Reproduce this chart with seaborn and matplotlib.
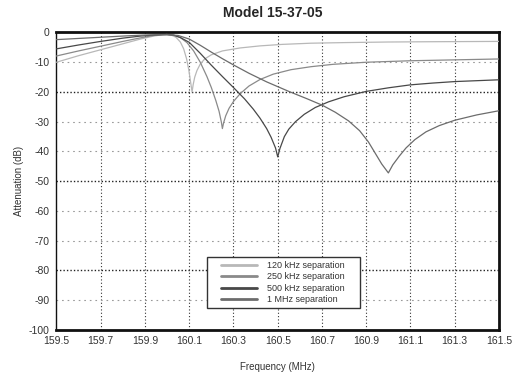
import matplotlib
matplotlib.use("Agg")
import matplotlib.pyplot as plt
from matplotlib.ticker import MultipleLocator, FormatStrFormatter
from matplotlib.lines import Line2D
from matplotlib.patches import Rectangle
import seaborn as sns
import pandas as pd

# Filter response curves: frequency (MHz) vs attenuation (dB)
freq_120 = [159.5, 159.6, 159.7, 159.8, 159.88, 159.94, 159.98, 160.0, 160.02, 160.04,
            160.06, 160.075, 160.088, 160.098, 160.106, 160.113, 160.118, 160.125, 160.135,
            160.15, 160.17, 160.2, 160.25, 160.33, 160.42, 160.52, 160.65, 160.8, 161.0,
            161.2, 161.5]
atten_120 = [-10.0, -7.8, -5.8, -3.8, -2.2, -1.2, -0.75, -0.7, -0.9, -1.6,
             -3.2, -5.5, -8.8, -12.5, -16.5, -20.0, -17.5, -15.0, -12.8,
             -10.6, -8.9, -7.5, -6.2, -5.2, -4.5, -4.0, -3.6, -3.4, -3.2,
             -3.1, -3.0]

freq_250 = [159.5, 159.6, 159.7, 159.8, 159.88, 159.94, 159.98, 160.0, 160.03, 160.06,
            160.09, 160.12, 160.15, 160.18, 160.2, 160.22, 160.235, 160.245, 160.25,
            160.255, 160.265, 160.28, 160.3, 160.33, 160.37, 160.42, 160.48, 160.56,
            160.65, 160.75, 160.9, 161.1, 161.3, 161.5]
atten_250 = [-7.9, -6.2, -4.6, -3.0, -1.8, -1.0, -0.75, -0.7, -0.9, -1.7,
             -3.4, -6.2, -10.0, -14.8, -18.5, -22.8, -26.5, -30.0, -32.3,
             -30.5, -28.0, -25.5, -23.2, -20.6, -18.0, -15.8, -14.0, -12.5,
             -11.5, -10.7, -10.0, -9.5, -9.2, -8.9]

freq_500 = [159.5, 159.6, 159.7, 159.8, 159.88, 159.94, 159.98, 160.0, 160.03, 160.06,
            160.1, 160.15, 160.2, 160.25, 160.3, 160.35, 160.39, 160.42, 160.45,
            160.47, 160.49, 160.5, 160.51, 160.53, 160.55, 160.58, 160.62, 160.67,
            160.73, 160.8, 160.9, 161.0, 161.1, 161.2, 161.3, 161.4, 161.5]
atten_500 = [-5.5, -4.2, -3.0, -1.9, -1.2, -0.85, -0.72, -0.7, -0.9, -1.7,
             -3.3, -7.0, -11.0, -14.8, -18.5, -22.3, -25.8, -28.8, -32.3,
             -35.2, -38.8, -41.8, -39.0, -35.0, -32.5, -30.0, -27.5, -25.2,
             -23.3, -21.6, -19.8, -18.6, -17.6, -17.0, -16.5, -16.2, -15.9]

freq_1000 = [159.5, 159.6, 159.7, 159.8, 159.9, 160.0, 160.05, 160.1, 160.15, 160.2,
             160.25, 160.3, 160.37, 160.45, 160.55, 160.63, 160.7, 160.76, 160.82,
             160.87, 160.91, 160.94, 160.97, 161.0, 161.02, 161.05, 161.08, 161.12,
             161.17, 161.23, 161.3, 161.4, 161.5]
atten_1000 = [-2.4, -2.0, -1.6, -1.2, -0.85, -0.7, -1.0, -2.2, -4.3, -6.6,
              -8.8, -10.9, -13.7, -16.6, -19.8, -22.2, -24.4, -26.8, -29.7,
              -33.0, -36.8, -40.5, -44.2, -47.2, -44.5, -41.5, -38.8, -36.0,
              -33.4, -31.3, -29.5, -27.7, -26.3]

series_labels = ["120 kHz separation", "250 kHz separation",
                 "500 kHz separation", "1 MHz separation"]
x_ticks = [159.5, 159.7, 159.9, 160.1, 160.3, 160.5, 160.7, 160.9, 161.1, 161.3, 161.5]
y_ticks = [0, -10, -20, -30, -40, -50, -60, -70, -80, -90, -100]

frames = []
for lab, f, a in zip(series_labels,
                     [freq_120, freq_250, freq_500, freq_1000],
                     [atten_120, atten_250, atten_500, atten_1000]):
    frames.append(pd.DataFrame({"Frequency": f, "Attenuation": a, "Series": lab}))
df = pd.concat(frames, ignore_index=True)

palette = {
    "120 kHz separation": "#b8b8b8",
    "250 kHz separation": "#8a8a8a",
    "500 kHz separation": "#484848",
    "1 MHz separation": "#6c6c6c",
}

sns.set_style("white")
plt.rcParams["font.family"] = ["Liberation Sans", "DejaVu Sans"]
plt.rcParams["axes.unicode_minus"] = False

fig = plt.figure(figsize=(5.13, 3.73), dpi=100)
ax = fig.add_axes([0.110, 0.1153, 0.8627, 0.7976])

# grid: vertical dotted lines, horizontal lines light with emphasis every 30 dB
for xv in x_ticks[1:-1]:
    ax.axvline(xv, color="#333333", lw=0.8, ls=(0, (1, 2)), zorder=1)
for yv in y_ticks[1:-1]:
    if yv in (-20, -50, -80):
        ax.axhline(yv, color="#222222", lw=1.0, ls=(0, (1, 1.5)), zorder=1)
    else:
        ax.axhline(yv, color="#9a9a9a", lw=0.8, ls=(0, (1.5, 3.5)), zorder=1)

sns.lineplot(data=df, x="Frequency", y="Attenuation", hue="Series",
             palette=palette, estimator=None, sort=False, lw=0.9,
             legend=False, ax=ax, zorder=3)

ax.set_xlim(159.5, 161.5)
ax.set_ylim(-100, 0)
ax.set_xticks(x_ticks)
ax.set_yticks(y_ticks)
ax.xaxis.set_major_formatter(FormatStrFormatter("%.1f"))
ax.xaxis.set_minor_locator(MultipleLocator(0.04))
ax.yaxis.set_minor_locator(MultipleLocator(2))
ax.tick_params(axis="both", which="both", direction="in", colors="#222222",
               labelsize=7.5, labelcolor="#333333")
ax.tick_params(axis="both", which="major", length=4, width=1.2)
ax.tick_params(axis="both", which="minor", length=2.5, width=1.0)
ax.tick_params(axis="x", pad=4)
ax.tick_params(axis="y", pad=5)

for side, lw in (("left", 1.0), ("bottom", 2.0), ("right", 2.0), ("top", 2.0)):
    ax.spines[side].set_visible(True)
    ax.spines[side].set_color("#111111")
    ax.spines[side].set_linewidth(lw)

ax.set_xlabel("Frequency (MHz)", fontsize=7, color="#333333", labelpad=12)
ax.set_ylabel("Attenuation (dB)", fontsize=7, color="#333333", labelpad=3)
fig.suptitle("Model 15-37-05", x=0.532, y=0.985, fontsize=10, fontweight="bold")

# legend box drawn as a plain rectangle, entries placed inside it
W, H = 513.0, 373.0
fig.patches.append(Rectangle((207 / W, 1 - 308 / H), 153 / W, 51 / H,
                             transform=fig.transFigure, facecolor="white",
                             edgecolor="#333333", lw=1.0, zorder=5))
handles = [Line2D([0], [0], color=palette[s], lw=2.0) for s in series_labels]
leg = fig.legend(handles, series_labels, loc="upper left",
                 bbox_to_anchor=(221 / W, 1 - 261 / H), borderaxespad=0,
                 fontsize=6.5, frameon=False,
                 handlelength=4.0, handletextpad=1.1, labelspacing=0.27,
                 borderpad=0.0)
leg.set_zorder(6)
for t in leg.get_texts():
    t.set_color("#333333")

fig.savefig("out.png", dpi=100, facecolor="white")
